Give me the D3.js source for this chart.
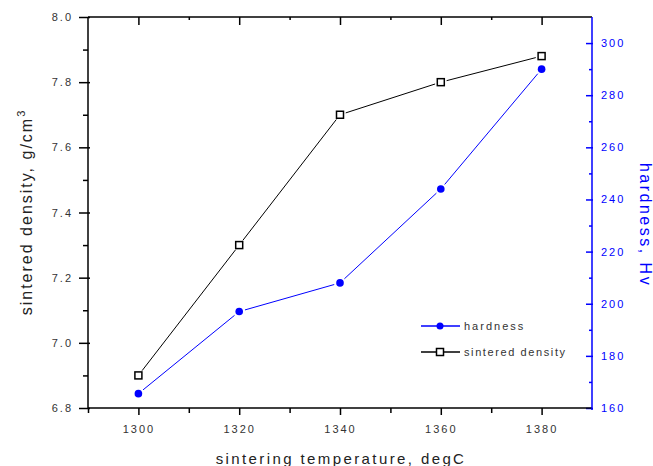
<!DOCTYPE html>
<html lang="en">
<head>
    <meta charset="UTF-8">
    <title>Sintering</title>
    <style>
        body { margin: 0; background: #fff; }
        text { font-family: "Liberation Sans", Arial, sans-serif; }
    </style>
</head>
<body>
<script src="https://d3js.org/d3.v7.min.js"></script>
<script>

  // data
  var temperatures = [1300, 1320, 1340, 1360, 1380];
  var density = [6.90, 7.30, 7.70, 7.80, 7.88];
  var hardness = [165.5, 197, 208, 244, 290];

  var xTicks = [1300, 1320, 1340, 1360, 1380];
  var densityTicks = [6.8, 7.0, 7.2, 7.4, 7.6, 7.8, 8.0];
  var hardnessTicks = [160, 180, 200, 220, 240, 260, 280, 300];

  var blue = "#0000ff";

  // plot box
  var boxL = 88, boxR = 592, boxT = 17, boxB = 408;

  var svg = d3.select("body").append("svg")
          .attr("width", 653)
          .attr("height", 466);

  var x = d3.scaleLinear().domain([1290, 1390]).range([boxL, boxR]);
  var yL = d3.scaleLinear().domain([6.8, 8.0]).range([boxB, boxT]);
  var yR = d3.scaleLinear().domain([160, 310]).range([boxB, boxT]);

  function styleAxis(g, color) {
    g.select(".domain").remove();
    g.selectAll(".tick line").attr("stroke", color).attr("stroke-width", 1.5);
    g.selectAll(".tick text")
            .attr("fill", color)
            .style("font-size", "11px")
            .style("letter-spacing", "2px");
  }

  function plainTicks(g) {
    g.select(".domain").remove();
    g.selectAll("line").attr("stroke-width", 1.5);
  }

  // bottom axis
  var gx = svg.append("g")
          .attr("transform", "translate(0," + boxB + ")")
          .call(d3.axisBottom(x).tickValues(xTicks).tickSize(7).tickPadding(10).tickFormat(d3.format("d")));
  styleAxis(gx, "#333");
  gx.selectAll(".tick line").attr("stroke", "#000");
  svg.append("g")
          .attr("transform", "translate(0," + boxB + ")")
          .call(d3.axisBottom(x).tickValues([1290, 1310, 1330, 1350, 1370]).tickSize(5).tickFormat(""))
          .call(plainTicks);

  // top axis (ticks inside)
  svg.append("g")
          .attr("transform", "translate(0," + boxT + ")")
          .call(d3.axisBottom(x).tickValues(xTicks).tickSize(8).tickFormat(""))
          .call(plainTicks);
  svg.append("g")
          .attr("transform", "translate(0," + boxT + ")")
          .call(d3.axisBottom(x).tickValues([1310, 1330, 1350, 1370]).tickSize(3).tickFormat(""))
          .call(plainTicks);

  // left axis
  var gl = svg.append("g")
          .attr("transform", "translate(" + boxL + ",0)")
          .call(d3.axisLeft(yL).tickValues(densityTicks).tickSize(9).tickPadding(6).tickFormat(d3.format(".1f")));
  styleAxis(gl, "#333");
  gl.selectAll(".tick line").attr("stroke", "#000").attr("x2", -9).attr("x1", 2);
  svg.append("g")
          .attr("transform", "translate(" + boxL + ",0)")
          .call(d3.axisLeft(yL).tickValues([6.9, 7.1, 7.3, 7.5, 7.7, 7.9]).tickSize(5).tickFormat(""))
          .call(plainTicks);

  // right axis (ticks inside)
  var gr = svg.append("g")
          .attr("transform", "translate(" + boxR + ",0)")
          .call(d3.axisRight(yR).tickValues(hardnessTicks).tickSize(0).tickPadding(9));
  styleAxis(gr, blue);
  gr.selectAll(".tick line").attr("x1", -6).attr("x2", 1);
  svg.append("g")
          .attr("transform", "translate(" + boxR + ",0)")
          .call(d3.axisRight(yR).tickValues([170, 190, 210, 230, 250, 270, 290]).tickSize(0).tickFormat(""))
          .call(function(g) {
            g.select(".domain").remove();
            g.selectAll("line").attr("stroke", blue).attr("stroke-width", 1.5).attr("x1", -3).attr("x2", 0);
          });

  // frame lines
  svg.append("line").attr("x1", boxL).attr("x2", boxR).attr("y1", boxT).attr("y2", boxT)
          .attr("stroke", "#000").attr("stroke-width", 1.5);
  svg.append("line").attr("x1", boxL).attr("x2", boxR).attr("y1", boxB).attr("y2", boxB)
          .attr("stroke", "#000").attr("stroke-width", 1.5);
  svg.append("line").attr("x1", boxL).attr("x2", boxL).attr("y1", boxT).attr("y2", boxB)
          .attr("stroke", "#000").attr("stroke-width", 1.5);
  svg.append("line").attr("x1", boxR).attr("x2", boxR).attr("y1", boxT).attr("y2", boxB + 2)
          .attr("stroke", blue).attr("stroke-width", 1.5);

  // line segments with a small gap at each marker
  function drawSeries(values, yScale, color) {
    var pts = temperatures.map(function(t, i) { return [x(t), yScale(values[i])]; });
    for (var i = 0; i < pts.length - 1; i++) {
      var a = pts[i], b = pts[i + 1];
      var dx = b[0] - a[0], dy = b[1] - a[1], len = Math.sqrt(dx * dx + dy * dy);
      var g = 6 / len;
      svg.append("line")
              .attr("x1", a[0] + dx * g).attr("y1", a[1] + dy * g)
              .attr("x2", b[0] - dx * g).attr("y2", b[1] - dy * g)
              .attr("stroke", color).attr("stroke-width", 1);
    }
  }

  drawSeries(density, yL, "#000");
  drawSeries(hardness, yR, blue);

  svg.selectAll(".sq")
          .data(density)
          .enter().append("rect")
          .attr("class", "sq")
          .attr("x", function(d, i) { return x(temperatures[i]) - 3.5; })
          .attr("y", function(d) { return yL(d) - 3.5; })
          .attr("width", 7).attr("height", 7)
          .attr("fill", "#fff").attr("stroke", "#000").attr("stroke-width", 1.5);

  svg.selectAll(".dot")
          .data(hardness)
          .enter().append("circle")
          .attr("class", "dot")
          .attr("cx", function(d, i) { return x(temperatures[i]); })
          .attr("cy", function(d) { return yR(d); })
          .attr("r", 3.8)
          .attr("fill", blue);

  // legend
  var lg = svg.append("g");
  lg.append("line").attr("x1", 421).attr("x2", 460).attr("y1", 326).attr("y2", 326).attr("stroke", blue).attr("stroke-width", 1.5);
  lg.append("circle").attr("cx", 440).attr("cy", 326).attr("r", 3.5).attr("fill", blue);
  lg.append("text").attr("x", 464).attr("y", 330).attr("fill", "#333")
          .style("font-size", "11px").style("letter-spacing", "2px").text("hardness");
  lg.append("line").attr("x1", 421).attr("x2", 460).attr("y1", 352).attr("y2", 352).attr("stroke", "#000").attr("stroke-width", 1.5);
  lg.append("rect").attr("x", 436.5).attr("y", 348.5).attr("width", 7).attr("height", 7)
          .attr("fill", "#fff").attr("stroke", "#000").attr("stroke-width", 1.5);
  lg.append("text").attr("x", 464).attr("y", 356).attr("fill", "#333")
          .style("font-size", "11px").style("letter-spacing", "1.6px").text("sintered density");

  // axis titles
  svg.append("text")
          .attr("x", 341).attr("y", 464)
          .attr("text-anchor", "middle").attr("fill", "#222")
          .style("font-size", "15px").style("letter-spacing", "2.4px")
          .text("sintering temperature, degC");

  var lt = svg.append("text")
          .attr("transform", "translate(32,212) rotate(-90)")
          .attr("text-anchor", "middle").attr("fill", "#222")
          .style("font-size", "16px").style("letter-spacing", "2px");
  lt.append("tspan").text("sintered density, g/cm");
  lt.append("tspan").attr("dy", -7).style("font-size", "11px").text("3");

  svg.append("text")
          .attr("transform", "translate(640,225) rotate(90)")
          .attr("text-anchor", "middle").attr("fill", blue)
          .style("font-size", "16px").style("letter-spacing", "2.5px")
          .text("hardness, Hv");

</script>
</body>
</html>
